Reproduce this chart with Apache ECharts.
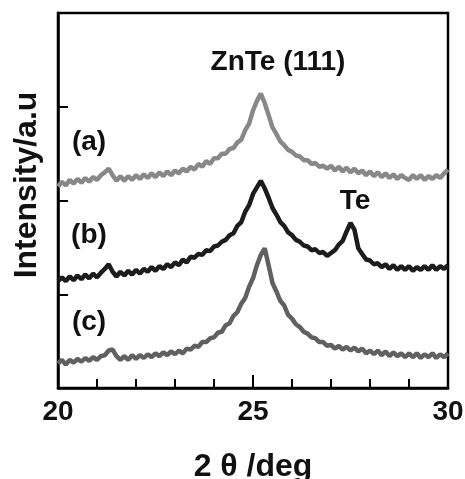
<!DOCTYPE html>
<html>
<head>
<meta charset="utf-8">
<script src="https://cdn.jsdelivr.net/npm/echarts@6/dist/echarts.min.js"></script>
<style>
  html, body { margin: 0; padding: 0; background: #fff; }
  #main { width: 465px; height: 479px; }
</style>
</head>
<body>
<div id="main"></div>
<script>
// 2θ (deg)
var angles = [
  20.0, 20.1, 20.2, 20.3, 20.4, 20.5, 20.6, 20.7, 20.8, 20.9,
  21.0, 21.1, 21.2, 21.3, 21.4, 21.5, 21.6, 21.7, 21.8, 21.9,
  22.0, 22.1, 22.2, 22.3, 22.4, 22.5, 22.6, 22.7, 22.8, 22.9,
  23.0, 23.1, 23.2, 23.3, 23.4, 23.5, 23.6, 23.7, 23.8, 23.9,
  24.0, 24.1, 24.2, 24.3, 24.4, 24.5, 24.6, 24.7, 24.8, 24.9,
  25.0, 25.1, 25.2, 25.3, 25.4, 25.5, 25.6, 25.7, 25.8, 25.9,
  26.0, 26.1, 26.2, 26.3, 26.4, 26.5, 26.6, 26.7, 26.8, 26.9,
  27.0, 27.1, 27.2, 27.3, 27.4, 27.5, 27.6, 27.7, 27.8, 27.9,
  28.0, 28.1, 28.2, 28.3, 28.4, 28.5, 28.6, 28.7, 28.8, 28.9,
  29.0, 29.1, 29.2, 29.3, 29.4, 29.5, 29.6, 29.7, 29.8, 29.9,
  30.0
];
// (a)
var curveA = [
  2.15, 2.20, 2.16, 2.22, 2.18, 2.23, 2.19, 2.24, 2.20, 2.25,
  2.22, 2.27, 2.30, 2.34, 2.27, 2.21, 2.26, 2.21, 2.26, 2.22,
  2.27, 2.23, 2.28, 2.24, 2.29, 2.25, 2.30, 2.26, 2.31, 2.27,
  2.32, 2.29, 2.34, 2.31, 2.36, 2.33, 2.39, 2.36, 2.42, 2.39,
  2.45, 2.45, 2.50, 2.50, 2.55, 2.56, 2.62, 2.65, 2.75, 2.82,
  2.96, 3.06, 3.14, 3.04, 2.91, 2.78, 2.71, 2.63, 2.59, 2.54,
  2.52, 2.48, 2.47, 2.43, 2.43, 2.39, 2.40, 2.36, 2.37, 2.34,
  2.37, 2.32, 2.36, 2.31, 2.35, 2.30, 2.34, 2.29, 2.32, 2.27,
  2.31, 2.26, 2.30, 2.25, 2.29, 2.24, 2.28, 2.23, 2.27, 2.24,
  2.22, 2.27, 2.23, 2.27, 2.22, 2.26, 2.23, 2.27, 2.24, 2.29,
  2.33
];
// (b)
var curveB = [
  1.14, 1.18, 1.14, 1.19, 1.15, 1.20, 1.16, 1.21, 1.17, 1.22,
  1.18, 1.23, 1.27, 1.32, 1.24, 1.19, 1.24, 1.20, 1.25, 1.21,
  1.26, 1.22, 1.27, 1.24, 1.29, 1.25, 1.30, 1.27, 1.32, 1.29,
  1.34, 1.31, 1.37, 1.34, 1.40, 1.39, 1.43, 1.42, 1.47, 1.46,
  1.51, 1.52, 1.56, 1.58, 1.63, 1.65, 1.73, 1.77, 1.88, 1.95,
  2.07, 2.14, 2.21, 2.13, 2.03, 1.92, 1.85, 1.77, 1.73, 1.66,
  1.63, 1.58, 1.56, 1.52, 1.51, 1.47, 1.48, 1.44, 1.45, 1.41,
  1.44, 1.47, 1.53, 1.57, 1.67, 1.76, 1.69, 1.49, 1.43, 1.37,
  1.36, 1.32, 1.33, 1.29, 1.32, 1.27, 1.31, 1.26, 1.30, 1.26,
  1.30, 1.25, 1.29, 1.26, 1.30, 1.26, 1.31, 1.26, 1.30, 1.27,
  1.31
];
// (c)
var curveC = [
  0.26, 0.30, 0.25, 0.30, 0.27, 0.31, 0.28, 0.32, 0.29, 0.33,
  0.30, 0.34, 0.35, 0.40, 0.41, 0.34, 0.30, 0.34, 0.30, 0.35,
  0.31, 0.35, 0.32, 0.36, 0.33, 0.37, 0.34, 0.38, 0.35, 0.39,
  0.36, 0.40, 0.37, 0.42, 0.41, 0.45, 0.44, 0.49, 0.49, 0.53,
  0.54, 0.59, 0.60, 0.67, 0.69, 0.77, 0.81, 0.90, 0.96, 1.08,
  1.17, 1.31, 1.42, 1.49, 1.31, 1.12, 1.03, 0.93, 0.88, 0.78,
  0.74, 0.68, 0.65, 0.60, 0.58, 0.54, 0.53, 0.49, 0.49, 0.45,
  0.46, 0.42, 0.45, 0.41, 0.44, 0.40, 0.43, 0.39, 0.42, 0.37,
  0.40, 0.36, 0.40, 0.35, 0.39, 0.34, 0.38, 0.34, 0.37, 0.33,
  0.37, 0.33, 0.37, 0.32, 0.36, 0.33, 0.37, 0.32, 0.36, 0.33,
  0.37
];
var xTickLabels = [20, 25, 30];

var FONT = 'Liberation Sans, Arial, sans-serif';

function pairs(ys) {
  return angles.map(function (x, i) { return [x, ys[i]]; });
}

function lineSeries(name, ys, color) {
  return {
    name: name,
    type: 'line',
    showSymbol: false,
    smooth: false,
    lineStyle: { color: color, width: 4.5 },
    data: pairs(ys)
  };
}

var chartDom = document.getElementById('main');
var myChart = echarts.init(chartDom);

var option = {
  animation: false,
  backgroundColor: '#fff',
  grid: {
    left: 58, right: 17, top: 13, bottom: 91,
    outerBoundsMode: 'none',
    containLabel: false,
    show: true, borderColor: '#000', borderWidth: 2.5
  },
  xAxis: {
    type: 'value',
    min: 20, max: 30, interval: 5,
    name: '2 θ /deg',
    nameLocation: 'middle',
    nameGap: 63,
    nameTextStyle: { fontFamily: FONT, fontWeight: 'bold', fontSize: 32, color: '#111' },
    axisLine: { lineStyle: { color: '#000', width: 2.5 } },
    axisTick: { inside: true, length: 13, lineStyle: { color: '#000', width: 2 } },
    minorTick: { show: true, splitNumber: 5, length: 9, lineStyle: { color: '#000', width: 2 } },
    splitLine: { show: false },
    minorSplitLine: { show: false },
    axisLabel: {
      margin: 10,
      fontFamily: FONT, fontWeight: 'bold', fontSize: 28, color: '#111',
      formatter: function (v) { return xTickLabels.indexOf(v) >= 0 ? String(v) : ''; }
    }
  },
  yAxis: {
    type: 'value',
    min: 0, max: 4, interval: 1,
    axisLine: { show: true, lineStyle: { color: '#000', width: 2.5 } },
    axisTick: { show: true, inside: true, length: 10, lineStyle: { color: '#000', width: 2 } },
    splitLine: { show: false },
    axisLabel: { show: false }
  },
  graphic: [
    {
      type: 'text', x: 27, y: 185, rotation: Math.PI / 2,
      style: {
        text: 'Intensity/a.u', fontFamily: FONT, fontWeight: 'bold', fontSize: 32,
        fill: '#111', align: 'center', verticalAlign: 'middle'
      }
    },
    { type: 'text', x: 278, y: 62, style: { text: 'ZnTe (111)', fontFamily: FONT, fontWeight: 'bold', fontSize: 28, fill: '#111', align: 'center', verticalAlign: 'middle' } },
    { type: 'text', x: 355, y: 201, style: { text: 'Te', fontFamily: FONT, fontWeight: 'bold', fontSize: 28, fill: '#111', align: 'center', verticalAlign: 'middle' } },
    { type: 'text', x: 89, y: 142, style: { text: '(a)', fontFamily: FONT, fontWeight: 'bold', fontSize: 28, fill: '#111', align: 'center', verticalAlign: 'middle' } },
    { type: 'text', x: 89, y: 235, style: { text: '(b)', fontFamily: FONT, fontWeight: 'bold', fontSize: 28, fill: '#111', align: 'center', verticalAlign: 'middle' } },
    { type: 'text', x: 89, y: 322, style: { text: '(c)', fontFamily: FONT, fontWeight: 'bold', fontSize: 28, fill: '#111', align: 'center', verticalAlign: 'middle' } }
  ],
  series: [
    lineSeries('(a)', curveA, '#888888'),
    lineSeries('(b)', curveB, '#1c1c1c'),
    lineSeries('(c)', curveC, '#606060')
  ]
};

myChart.setOption(option);
window.addEventListener('resize', function () { myChart.resize(); });
</script>
</body>
</html>
